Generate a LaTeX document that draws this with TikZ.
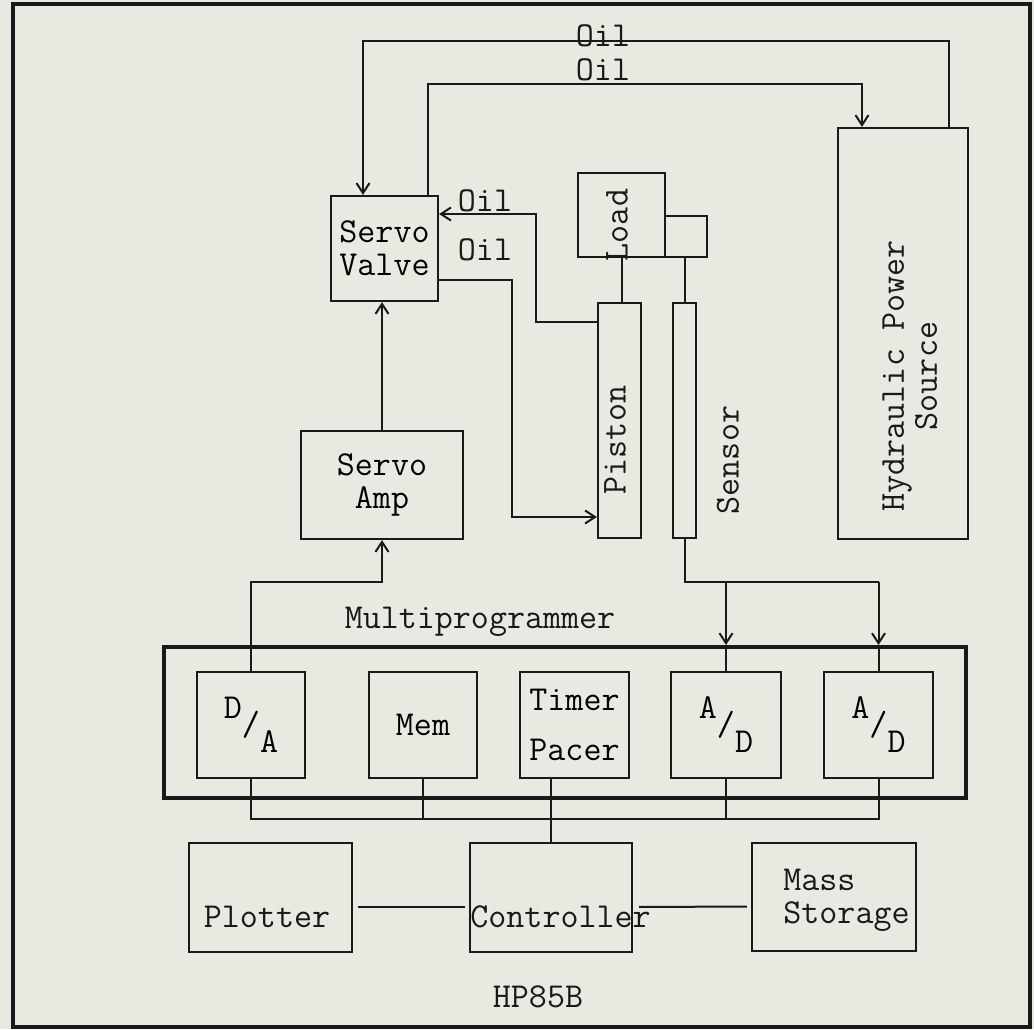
\documentclass[tikz,border=0pt]{standalone}
\usepackage{fontspec}
\usetikzlibrary{arrows.meta,calc}
\definecolor{paper}{RGB}{232,233,225}
\definecolor{ink}{RGB}{25,25,25}

\begin{document}
\begin{tikzpicture}[x=0.5pt,y=-0.5pt,>={Straight Barb[length=5pt,width=6.5pt]},
 font=\fontsize{17.5}{16.5}\selectfont\ttfamily,
 box/.style={draw=ink,line width=1.1pt,inner sep=0pt,align=center},
 lbl/.style={inner sep=0pt,align=center,text=ink},
 wire/.style={draw=ink,line width=1pt}]
\fill[paper] (0,0) rectangle (1034,1029);
\useasboundingbox (0,0) rectangle (1034,1029);
\draw[ink,line width=1.6pt] (13,4) rectangle (1030,1027);
% hydraulic side
\node[box,minimum width=53.5pt,minimum height=52.5pt] (valve) at (384.5,248.5) {Servo\\Valve};
\node[box,minimum width=65pt,minimum height=205.5pt] (hyd) at (903,333.5) {};
\node[lbl,rotate=90] (hydtxt) at (910,376) {Hydraulic Power\\Source};
\node[box,minimum width=43.5pt,minimum height=42pt] (load) at (621.5,215) {};
\node[lbl,rotate=90] (loadtxt) at (617,225) {Load};
\node[box,minimum width=21pt,minimum height=20.5pt] (stub) at (686,236.5) {};
\node[box,minimum width=21.5pt,minimum height=117.5pt] (piston) at (619.5,420.5) {};
\node[lbl,rotate=90] (pistxt) at (615,440) {Piston};
\node[box,minimum width=11.5pt,minimum height=117.5pt] (sensor) at (684.5,420.5) {};
\node[lbl,rotate=90] (sentxt) at (728,460) {Sensor};
\node[box,minimum width=81pt,minimum height=54pt] (amp) at (382,485) {Servo\\Amp};
\node[lbl] (oil1) at (603,36) {Oil};
\node[lbl] (oil2) at (603,70) {Oil};
\node[lbl] (oil3) at (485,201) {Oil};
\node[lbl] (oil4) at (485,250) {Oil};
% multiprogrammer
\node[box,line width=2pt,minimum width=401pt,minimum height=75.5pt] (multi) at (565,722.5) {};
\node[lbl] (multitxt) at (480,622) {Multiprogrammer};
\node[box,minimum width=54pt,minimum height=53pt] (da) at (251,725) {\raisebox{8.5pt}{D}/\raisebox{-8.5pt}{A}};
\node[box,minimum width=54pt,minimum height=53pt] (mem) at (423,725) {Mem};
\node[box,minimum width=54.5pt,minimum height=53pt] (timer) at (574.5,725) {Timer\\[8.5pt]Pacer};
\node[box,minimum width=55pt,minimum height=53pt] (ad1) at (726,725) {\raisebox{8.5pt}{A}/\raisebox{-8.5pt}{D}};
\node[box,minimum width=54.5pt,minimum height=53pt] (ad2) at (878.5,725) {\raisebox{8.5pt}{A}/\raisebox{-8.5pt}{D}};
% HP85B
\node[box,minimum width=81.5pt,minimum height=54.5pt] (plot) at (270.5,897.5) {};
\node[lbl] (plottxt) at (267,917) {Plotter};
\node[box,minimum width=81pt,minimum height=54.5pt] (ctrl) at (551,897.5) {};
\node[lbl,anchor=west] (ctrltxt) at (470,917) {Controller};
\node[box,minimum width=82pt,minimum height=54pt] (store) at (834,897) {};
\node[lbl,anchor=west,align=left] (storetxt) at (783,900) {Mass\\Storage};
\node[lbl] (hp) at (538,997) {HP85B};
% bends
\coordinate (bendA) at (363,41);
\coordinate (bendB) at (428,84);
\coordinate (bendC) at (536,214);
\coordinate (bendD) at (512,517);
\coordinate (sbus) at (683,582);
\coordinate (abus) at (382,582);
\coordinate (bus) at (250,819);
% oil lines
\draw[wire,->] ([xshift=-10pt]hyd.north east) |- (bendA) -- (bendA |- valve.north);
\draw[wire,->] (bendB |- valve.north) -- (bendB) -| ([xshift=-20.5pt]hyd.north);
\draw[wire,->] ([yshift=-10pt]piston.north west) -| (bendC) -- (bendC -| valve.east);
\draw[wire,->] ([yshift=11pt]valve.south east) -| (bendD) -- (bendD -| piston.west);
\draw[wire] (load.south) -- (load.south |- piston.north);
\draw[wire] (sensor.north) -- (sensor.north |- stub.south);
% signals
\draw[wire] (sensor.south) -- (sensor.south |- sbus) -- (sbus -| ad2.north);
\draw[wire,->] (sbus -| ad1.north) -- (ad1.north |- multi.north);
\draw[wire,->] (sbus -| ad2.north) -- (ad2.north |- multi.north);
\draw[wire] (multi.north -| ad1.north) -- (ad1.north);
\draw[wire] (multi.north -| ad2.north) -- (ad2.north);
\draw[wire,->] (da.north) |- (abus) -- (amp.south);
\draw[wire,->] (amp.north) -- (amp.north |- valve.south);
% bus
\draw[wire] (da.south) -- (da.south |- bus) -- (ad2.south |- bus) -- (ad2.south);
\draw[wire] (mem.south) -- (mem.south |- bus);
\draw[wire] (ad1.south) -- (ad1.south |- bus);
\draw[wire] (ctrl.north) -- (ctrl.north |- timer.south);
\draw[wire,shorten <=2.5pt,shorten >=2pt] ([yshift=-4.75pt]plot.east) -- ([yshift=-4.75pt]ctrl.west);
\draw[wire,shorten <=3pt,shorten >=2pt] ([yshift=-4.75pt]ctrl.east) -- ([yshift=-4.75pt]store.west);
\end{tikzpicture}
\end{document}
